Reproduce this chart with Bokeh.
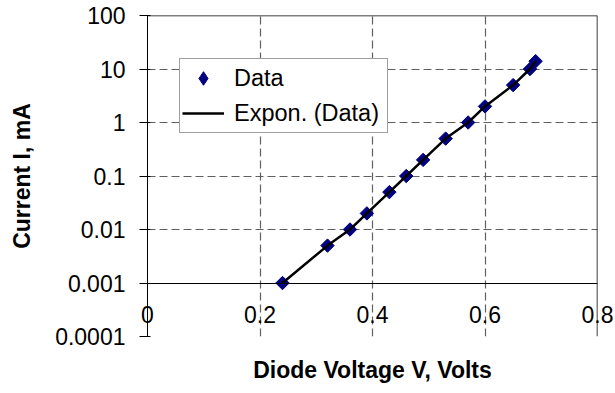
import numpy as np
from bokeh.plotting import figure
from bokeh.models import (Range1d, LinearAxis, FixedTicker, Span, Legend, LegendItem,
                          ColumnDataSource, Grid)
from bokeh.embed import file_html
from bokeh.resources import INLINE

# ---- data ----
voltage = [0.24, 0.32, 0.36, 0.39, 0.43, 0.46, 0.49, 0.53, 0.57, 0.60, 0.65, 0.68, 0.69]
current = [0.001, 0.005, 0.01, 0.02, 0.05, 0.1, 0.2, 0.5, 1.0, 2.0, 5.0, 10.0, 14.0]
x_ticks = [0.0, 0.2, 0.4, 0.6, 0.8]
x_tick_labels = ["0", "0.2", "0.4", "0.6", "0.8"]
y_ticks = [0.0001, 0.001, 0.01, 0.1, 1.0, 10.0, 100.0]
y_tick_labels = ["0.0001", "0.001", "0.01", "0.1", "1", "10", "100"]
x_title = "Diode Voltage V, Volts"
y_title = "Current I, mA"
series_name = "Data"
trend_name = "Expon. (Data)"

FONT = "Liberation Sans"
GRID_COLOR = "#606060"
NAVY = "#000080"
x_axis_at = y_ticks[1]  # the x axis crosses at I = 0.001

src = ColumnDataSource(dict(v=voltage, i=current))

p = figure(width=615, height=393, output_backend="svg", toolbar_location=None,
           x_range=Range1d(x_ticks[0], x_ticks[-1]),
           y_range=Range1d(y_ticks[0], y_ticks[-1]),
           y_axis_type="log", x_axis_location=None,
           min_border_left=147, min_border_right=18, min_border_top=15, min_border_bottom=57)
p.outline_line_color = None
p.background_fill_color = "white"
p.border_fill_color = "white"
p.xgrid.visible = False
p.ygrid.visible = False

# y axis
ya = p.yaxis[0]
ya.ticker = FixedTicker(ticks=y_ticks)
ya.major_label_overrides = dict(zip(y_ticks, y_tick_labels))
ya.major_label_text_font = FONT
ya.major_label_text_font_size = "23px"
ya.major_label_text_color = "black"
ya.major_label_standoff = 14
ya.major_tick_out = 8
ya.major_tick_in = 3
ya.minor_tick_line_color = None
ya.axis_line_color = "black"
ya.major_tick_line_color = "black"
ya.axis_label = y_title
ya.axis_label_text_font = FONT
ya.axis_label_text_font_size = "23px"
ya.axis_label_text_font_style = "bold"
ya.axis_label_text_color = "black"
ya.axis_label_standoff = 17

# x axis line drawn where y = 0.001
xa = LinearAxis(fixed_location=x_axis_at, ticker=FixedTicker(ticks=[]))
xa.major_tick_out = 0
xa.major_tick_in = 0
xa.minor_tick_line_color = None
xa.axis_line_color = "black"
p.add_layout(xa, "below")

# x tick labels (pulled up between the 0.001 and 0.0001 lines) and x title
xb = LinearAxis(ticker=FixedTicker(ticks=x_ticks),
                major_label_overrides=dict(zip(x_ticks, x_tick_labels)),
                axis_label=x_title)
xb.axis_line_color = None
xb.major_tick_line_color = None
xb.minor_tick_line_color = None
xb.major_tick_out = 0
xb.major_tick_in = 0
xb.major_label_standoff = -31
xb.major_label_text_font = FONT
xb.major_label_text_font_size = "23px"
xb.major_label_text_color = "black"
xb.axis_label_text_font = FONT
xb.axis_label_text_font_size = "23px"
xb.axis_label_text_font_style = "bold"
xb.axis_label_text_color = "black"
xb.axis_label_standoff = 31
p.add_layout(xb, "below")

# grids (dashed gray)
p.add_layout(Grid(dimension=0, ticker=FixedTicker(ticks=x_ticks[1:-1]),
                  grid_line_color=GRID_COLOR, grid_line_dash="8 4", grid_line_width=1.2))
p.add_layout(Grid(dimension=1, ticker=FixedTicker(ticks=[y_ticks[0]] + y_ticks[2:-1]),
                  grid_line_color=GRID_COLOR, grid_line_dash="8 4", grid_line_width=1.2))

# top and right frame borders
p.add_layout(Span(location=y_ticks[-1], dimension="width", line_color="black", line_width=1.5))
p.add_layout(Span(location=x_ticks[-1], dimension="height", line_color="black", line_width=1.5))

# legend swatch: a diamond hidden under each rotated-square marker
sw = p.scatter("v", "i", source=src, marker="diamond", size=11,
               fill_color=NAVY, line_color=NAVY)
sc = p.scatter("v", "i", source=src, marker="square", angle=np.pi / 4, size=9.5,
               fill_color=NAVY, line_color=NAVY)
ln = p.line("v", "i", source=src, line_color="black", line_width=2.5)

legend = Legend(items=[LegendItem(label=series_name, renderers=[sw]),
                       LegendItem(label=trend_name, renderers=[ln])],
                location=(32, 203))
legend.label_text_font = FONT
legend.label_text_font_size = "23.5px"
legend.label_text_color = "black"
legend.glyph_width = 42
legend.glyph_height = 34
legend.label_height = 34
legend.label_width = 151
legend.label_standoff = 10
legend.spacing = 1
legend.padding = 2
legend.margin = 0
legend.border_line_color = "#404040"
legend.border_line_width = 1
legend.background_fill_color = "white"
legend.background_fill_alpha = 1.0
p.add_layout(legend)

open("out.html", "w").write(file_html(p, INLINE))
